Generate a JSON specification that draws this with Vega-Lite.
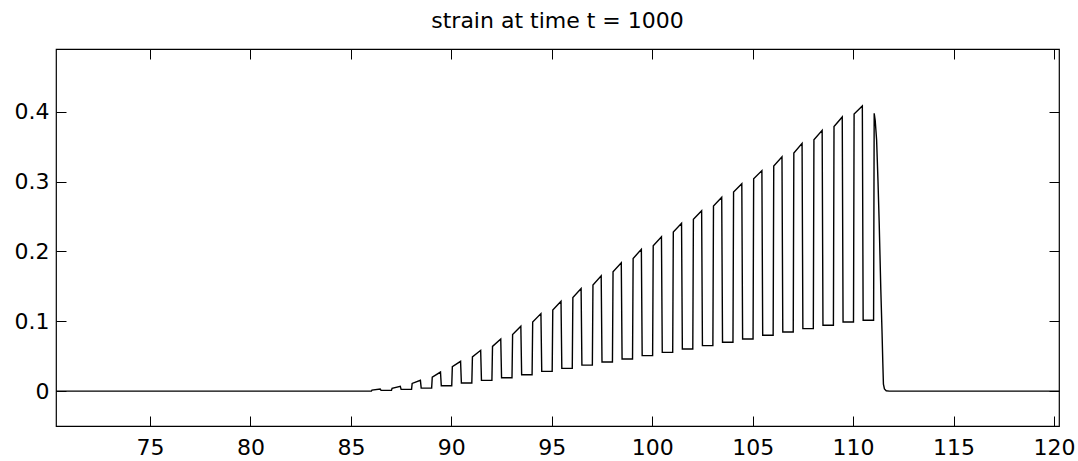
{
  "$schema": "https://vega.github.io/schema/vega-lite/v6.json",
  "width": 1003,
  "height": 377,
  "autosize": {"type": "none"},
  "padding": {"left": 56, "top": 49, "right": 19, "bottom": 35},
  "background": "#ffffff",
  "title": {"text": "strain at time t = 1000", "font": "DejaVu Sans", "fontSize": 22, "fontWeight": "normal", "color": "#000000", "anchor": "middle", "offset": 16},
  "config": {
    "view": {"stroke": "#000000", "strokeWidth": 1.2},
    "axis": {"domain": false, "grid": false, "tickColor": "#000000", "tickWidth": 1, "tickSize": -10, "labelFont": "DejaVu Sans", "labelFontSize": 22, "labelColor": "#000000", "title": null}
  },
  "data": {"values": [
    {"x": 70.3, "y": 0}, {"x": 86.02, "y": 0},
    {"x": 86.05, "y": 0.0015}, {"x": 86.46, "y": 0.003}, {"x": 86.5, "y": 0.001},
    {"x": 87.02, "y": 0.001}, {"x": 87.05, "y": 0.004}, {"x": 87.46, "y": 0.0067}, {"x": 87.5, "y": 0.0024},
    {"x": 88.02, "y": 0.0024}, {"x": 88.05, "y": 0.011}, {"x": 88.46, "y": 0.0154}, {"x": 88.5, "y": 0.0043},
    {"x": 89.02, "y": 0.0043}, {"x": 89.05, "y": 0.02}, {"x": 89.46, "y": 0.0273}, {"x": 89.5, "y": 0.0077},
    {"x": 90.02, "y": 0.0077}, {"x": 90.05, "y": 0.035}, {"x": 90.46, "y": 0.0426}, {"x": 90.5, "y": 0.0115},
    {"x": 91.02, "y": 0.0115}, {"x": 91.05, "y": 0.049}, {"x": 91.46, "y": 0.0584}, {"x": 91.5, "y": 0.0154},
    {"x": 92.02, "y": 0.0154}, {"x": 92.05, "y": 0.064}, {"x": 92.46, "y": 0.0747}, {"x": 92.5, "y": 0.0192},
    {"x": 93.02, "y": 0.0192}, {"x": 93.05, "y": 0.081}, {"x": 93.46, "y": 0.0929}, {"x": 93.5, "y": 0.0235},
    {"x": 94.02, "y": 0.0235}, {"x": 94.05, "y": 0.099}, {"x": 94.46, "y": 0.111}, {"x": 94.5, "y": 0.0283},
    {"x": 95.02, "y": 0.0283}, {"x": 95.05, "y": 0.116}, {"x": 95.46, "y": 0.1287}, {"x": 95.5, "y": 0.0326},
    {"x": 96.02, "y": 0.0326}, {"x": 96.05, "y": 0.134}, {"x": 96.46, "y": 0.147}, {"x": 96.5, "y": 0.0372},
    {"x": 97.02, "y": 0.0372}, {"x": 97.05, "y": 0.152}, {"x": 97.46, "y": 0.165}, {"x": 97.5, "y": 0.0416},
    {"x": 98.02, "y": 0.0416}, {"x": 98.05, "y": 0.171}, {"x": 98.46, "y": 0.1837}, {"x": 98.5, "y": 0.046},
    {"x": 99.02, "y": 0.046}, {"x": 99.05, "y": 0.19}, {"x": 99.46, "y": 0.203}, {"x": 99.5, "y": 0.0508},
    {"x": 100.02, "y": 0.0508}, {"x": 100.05, "y": 0.208}, {"x": 100.46, "y": 0.221}, {"x": 100.5, "y": 0.0555},
    {"x": 101.02, "y": 0.0555}, {"x": 101.05, "y": 0.228}, {"x": 101.46, "y": 0.2403}, {"x": 101.5, "y": 0.0603},
    {"x": 102.02, "y": 0.0603}, {"x": 102.05, "y": 0.246}, {"x": 102.46, "y": 0.2584}, {"x": 102.5, "y": 0.0651},
    {"x": 103.02, "y": 0.0651}, {"x": 103.05, "y": 0.265}, {"x": 103.46, "y": 0.2776}, {"x": 103.5, "y": 0.0699},
    {"x": 104.02, "y": 0.0699}, {"x": 104.05, "y": 0.285}, {"x": 104.46, "y": 0.2971}, {"x": 104.5, "y": 0.0746},
    {"x": 105.02, "y": 0.0746}, {"x": 105.05, "y": 0.304}, {"x": 105.46, "y": 0.3158}, {"x": 105.5, "y": 0.08},
    {"x": 106.02, "y": 0.08}, {"x": 106.05, "y": 0.3225}, {"x": 106.46, "y": 0.3357}, {"x": 106.5, "y": 0.0847},
    {"x": 107.02, "y": 0.0847}, {"x": 107.05, "y": 0.341}, {"x": 107.46, "y": 0.3548}, {"x": 107.5, "y": 0.0895},
    {"x": 108.02, "y": 0.0895}, {"x": 108.05, "y": 0.36}, {"x": 108.46, "y": 0.3735}, {"x": 108.5, "y": 0.0943},
    {"x": 109.02, "y": 0.0943}, {"x": 109.05, "y": 0.379}, {"x": 109.46, "y": 0.3927}, {"x": 109.5, "y": 0.099},
    {"x": 110.02, "y": 0.099}, {"x": 110.05, "y": 0.397}, {"x": 110.46, "y": 0.4085}, {"x": 110.5, "y": 0.1015},
    {"x": 111.02, "y": 0.1015}, {"x": 111.05, "y": 0.398}, {"x": 111.1, "y": 0.388}, {"x": 111.17, "y": 0.36},
    {"x": 111.24, "y": 0.3}, {"x": 111.3, "y": 0.24}, {"x": 111.38, "y": 0.145}, {"x": 111.44, "y": 0.085},
    {"x": 111.48, "y": 0.04}, {"x": 111.51, "y": 0.01}, {"x": 111.56, "y": 0.003}, {"x": 111.65, "y": 0.0005},
    {"x": 111.8, "y": 0}, {"x": 120.3, "y": 0}
  ]},
  "layer": [
    {
      "mark": {"type": "line", "color": "#000000", "strokeWidth": 1.4, "clip": true},
      "encoding": {
        "x": {"field": "x", "type": "quantitative", "scale": {"domain": [70.32, 120.25], "nice": false, "zero": false},
              "axis": {"orient": "bottom", "values": [75, 80, 85, 90, 95, 100, 105, 110, 115, 120], "labelPadding": 21}},
        "y": {"field": "y", "type": "quantitative", "scale": {"domain": [-0.05, 0.49], "nice": false, "zero": false},
              "axis": {"orient": "left", "values": [0, 0.1, 0.2, 0.3, 0.4], "format": ".1~f", "labelPadding": 17}}
      }
    },
    {
      "mark": {"type": "line", "opacity": 0, "clip": true},
      "encoding": {
        "x": {"field": "x", "type": "quantitative", "axis": {"orient": "top", "values": [75, 80, 85, 90, 95, 100, 105, 110, 115, 120], "labels": false}},
        "y": {"field": "y", "type": "quantitative", "axis": {"orient": "right", "values": [0, 0.1, 0.2, 0.3, 0.4], "labels": false}}
      }
    }
  ],
  "resolve": {"axis": {"x": "independent", "y": "independent"}}
}
